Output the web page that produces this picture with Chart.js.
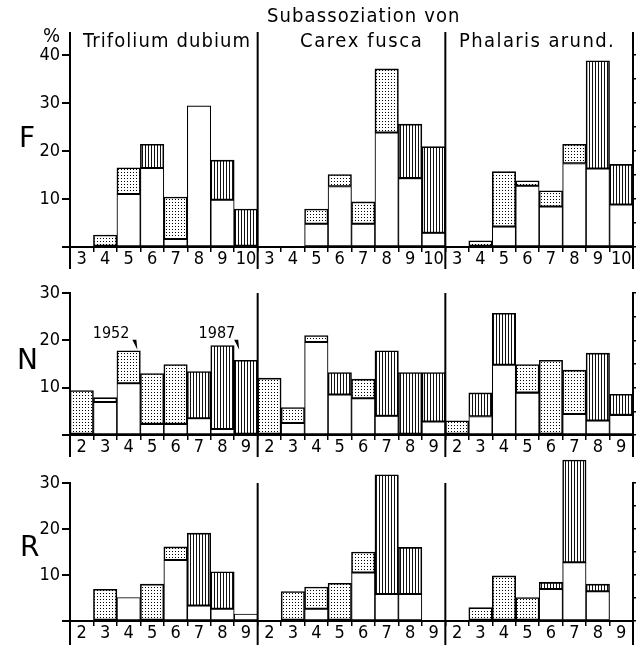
<!DOCTYPE html>
<html>
<head>
<meta charset="utf-8">
<script src="https://cdn.jsdelivr.net/npm/chart.js@4.4.0/dist/chart.umd.min.js"></script>
<style>
    html, body { margin: 0; padding: 0; background: #fff; }
    #wrap {
        position: relative; width: 636px; height: 648px; overflow: hidden;
        font-family: 'DejaVu Sans Condensed', 'DejaVu Sans', sans-serif; color: #000;
    }
    canvas { position: absolute; left: 0; }
    .txt { position: absolute; white-space: nowrap; line-height: 1; }
    .head { font-size: 20px; letter-spacing: 1.1px; }
    .row { font-size: 28px; font-family: 'DejaVu Sans', sans-serif; }
</style>
</head>
<body>
<div id="wrap">
    <canvas id="chartF" width="636" height="272" style="top:0px"></canvas>
    <canvas id="chartN" width="636" height="192" style="top:268px"></canvas>
    <canvas id="chartR" width="636" height="203" style="top:445px"></canvas>

    <div class="txt head" style="left:267px; top:5px;">Subassoziation von</div>
    <div class="txt head" style="left:83px; top:30px;">Trifolium dubium</div>
    <div class="txt head" style="left:300px; top:30px; letter-spacing:1.6px;">Carex fusca</div>
    <div class="txt head" style="left:459px; top:30px; letter-spacing:1.4px;">Phalaris arund.</div>
    <div class="txt" style="left:43px; top:25px; font-size:20px;">%</div>
    <div class="txt row" style="left:19px; top:124px;">F</div>
    <div class="txt row" style="left:17px; top:346px;">N</div>
    <div class="txt row" style="left:20px; top:533px;">R</div>
</div>

<script>
// ================================================================
// DATA  (per panel: share of releves in %, 1952 vs 1987)
// ================================================================

const panelNames = ['Trifolium dubium', 'Carex fusca', 'Phalaris arund.'];

// F = Feuchtezahl, N = Stickstoffzahl, R = Reaktionszahl
const fCategories = ['3', '4', '5', '6', '7', '8', '9', '10'];
const nCategories = ['2', '3', '4', '5', '6', '7', '8', '9'];
const rCategories = ['2', '3', '4', '5', '6', '7', '8', '9'];

const fTrifolium1952 = [0, 2.5, 16.5, 16.4, 10.4, 29.4, 9.8, 0];
const fTrifolium1987 = [0, 0, 11.0, 21.4, 1.6, 29.4, 18.1, 7.9];
const fCarex1952     = [0, 0, 7.9, 15.1, 9.4, 37.1, 14.3, 2.9];
const fCarex1987     = [0, 0, 4.8, 12.6, 4.8, 23.8, 25.6, 20.9];
const fPhalaris1952  = [0, 1.3, 15.7, 13.8, 11.7, 21.4, 16.3, 8.8];
const fPhalaris1987  = [0, 0, 4.2, 12.7, 8.4, 17.4, 38.8, 17.2];

const nTrifolium1952 = [9.4, 7.9, 17.8, 13.0, 14.9, 3.5, 1.2, 0];
const nTrifolium1987 = [0, 6.9, 10.9, 2.3, 2.3, 13.4, 18.9, 15.8];
const nCarex1952     = [12.0, 5.8, 21.0, 8.5, 11.8, 4.0, 0, 2.8];
const nCarex1987     = [0, 2.5, 19.6, 13.2, 7.7, 17.8, 13.2, 13.2];
const nPhalaris1952  = [3.0, 3.9, 14.8, 14.9, 15.8, 13.7, 3.0, 4.2];
const nPhalaris1987  = [0, 8.9, 25.7, 8.9, 0, 4.4, 17.3, 8.6];

const rTrifolium1952 = [0, 6.9, 5.1, 8.0, 16.1, 3.3, 2.6, 1.5];
const rTrifolium1987 = [0, 0, 5.1, 0, 13.2, 19.1, 10.7, 1.5];
const rCarex1952     = [0, 6.4, 7.4, 8.2, 15.0, 5.8, 5.8, 0];
const rCarex1987     = [0, 0, 2.6, 0, 10.5, 31.8, 16.0, 0];
const rPhalaris1952  = [0, 2.9, 9.8, 5.1, 6.9, 12.7, 6.4, 0];
const rPhalaris1987  = [0, 0, 0, 0, 8.4, 35.0, 8.0, 0];

const FONT = "'DejaVu Sans Condensed', 'DejaVu Sans', sans-serif";

// ================================================================
// FILL PATTERNS
// ================================================================

// dotted = decrease (1952 higher), vertical hatch = increase (1987 higher)
function makeDots() {
    const c = document.createElement('canvas');
    c.width = 3; c.height = 3;
    const g = c.getContext('2d');
    g.fillStyle = '#fff';
    g.fillRect(0, 0, 3, 3);
    g.fillStyle = '#000';
    g.fillRect(1, 1, 1, 1);
    return g.createPattern(c, 'repeat');
}

function makeHatch() {
    const c = document.createElement('canvas');
    c.width = 3; c.height = 3;
    const g = c.getContext('2d');
    g.fillStyle = '#fff';
    g.fillRect(0, 0, 3, 3);
    g.fillStyle = '#111';
    g.fillRect(1, 0, 1, 3);
    return g.createPattern(c, 'repeat');
}

const DOTS = makeDots();
const HATCH = makeHatch();

// ================================================================
// HELPERS
// ================================================================

function buildRow(cats, pairs) {
    const labels = [], base = [], diff = [], fills = [];
    pairs.forEach(([old, recent]) => {
        cats.forEach((c, i) => {
            const lo = Math.min(old[i], recent[i]);
            const hi = Math.max(old[i], recent[i]);
            labels.push(c);
            base.push([0, lo]);
            diff.push([lo, hi]);
            fills.push(old[i] >= recent[i] ? DOTS : HATCH);
        });
    });
    return { labels, base, diff, fills };
}

// thick panel separators, running above and below the plot area
const panelLines = {
    id: 'panelLines',
    afterDraw(chart, args, opts) {
        const { ctx, chartArea, scales: { x } } = chart;
        const n = x.getLabels().length;
        const w = x.getPixelForValue(1) - x.getPixelForValue(0);
        const top = opts.top != null ? opts.top : chartArea.top;
        ctx.save();
        ctx.strokeStyle = '#000';
        ctx.lineWidth = 2;
        for (let k = 0; k <= n; k += 8) {
            const px = k < n ? x.getPixelForValue(k) - w / 2 : x.getPixelForValue(n - 1) + w / 2;
            ctx.beginPath();
            ctx.moveTo(px, top);
            ctx.lineTo(px, chartArea.bottom + opts.below);
            ctx.stroke();
        }
        ctx.restore();
    }
};

// "1952" / "1987" pointers in the first N panel
const yearNotes = {
    id: 'yearNotes',
    afterDraw(chart) {
        const { ctx, scales: { x, y } } = chart;
        const w = x.getPixelForValue(1) - x.getPixelForValue(0);
        const tipY = y.getPixelForValue(18);
        const notes = [
            { text: '1952', px: x.getPixelForValue(2) + w / 2 - 4, gap: 7 },
            { text: '1987', px: x.getPixelForValue(6) + w / 2 + 4, gap: 3 }
        ];
        ctx.save();
        ctx.fillStyle = '#000';
        ctx.font = "16px " + FONT;
        ctx.textAlign = 'right';
        ctx.textBaseline = 'alphabetic';
        notes.forEach(n => {
            ctx.fillText(n.text, n.px - n.gap, tipY - 12);
            ctx.beginPath();
            ctx.moveTo(n.px - 4, tipY - 10);
            ctx.lineTo(n.px, tipY - 10);
            ctx.lineTo(n.px + 1, tipY);
            ctx.closePath();
            ctx.fill();
        });
        ctx.restore();
    }
};

function makeChart(id, row, opt) {
    const ctx = document.getElementById(id).getContext('2d');
    const plugins = [panelLines];
    if (opt.notes) plugins.push(yearNotes);

    return new Chart(ctx, {
        type: 'bar',
        data: {
            labels: row.labels,
            datasets: [
                {
                    label: 'difference',
                    data: row.diff,
                    backgroundColor: row.fills,
                    borderColor: '#000',
                    borderWidth: 1.6,
                    borderSkipped: false,
                    barPercentage: 1,
                    categoryPercentage: 1,
                    grouped: false,
                    clip: false
                },
                {
                    label: 'common part',
                    data: row.base,
                    backgroundColor: '#fff',
                    borderColor: '#000',
                    borderWidth: 1.1,
                    borderSkipped: false,
                    barPercentage: 1,
                    categoryPercentage: 1,
                    grouped: false,
                    clip: false
                }
            ]
        },
        options: {
            responsive: false,
            animation: false,
            events: [],
            layout: { padding: { top: opt.padTop, left: 0, right: 0, bottom: 0 } },
            plugins: {
                legend: { display: false },
                tooltip: { enabled: false },
                panelLines: { top: opt.lineTop, below: opt.below }
            },
            scales: {
                x: {
                    type: 'category',
                    offset: true,
                    grid: {
                        offset: true,
                        drawOnChartArea: false,
                        tickLength: 5,
                        color: '#000',
                        lineWidth: 1.5
                    },
                    border: { color: '#000', width: 2 },
                    ticks: {
                        autoSkip: false,
                        maxRotation: 0,
                        padding: -3,
                        color: '#000',
                        font: { family: FONT, size: 18 }
                    },
                    afterFit: a => { a.height = opt.axisH; }
                },
                y: {
                    min: 0,
                    max: opt.max,
                    position: 'left',
                    grid: {
                        drawOnChartArea: false,
                        tickLength: 8,
                        color: '#000',
                        lineWidth: 2
                    },
                    border: { color: '#000', width: 2 },
                    ticks: {
                        stepSize: 5,
                        padding: 2,
                        color: '#000',
                        font: { family: FONT, size: 18 },
                        callback: v => (v > 0 && v % 10 === 0 ? v : '')
                    },
                    afterFit: a => { a.width = 70; }
                },
                y2: {
                    min: 0,
                    max: opt.max,
                    position: 'right',
                    grid: {
                        drawOnChartArea: false,
                        tickLength: 6,
                        color: '#000',
                        lineWidth: 1.5
                    },
                    border: { color: '#000', width: 2 },
                    ticks: { stepSize: 5, display: false },
                    afterFit: a => { a.width = 3; }
                }
            }
        },
        plugins: plugins
    });
}

// ================================================================
// BUILD
// ================================================================

const rowF = buildRow(fCategories, [
    [fTrifolium1952, fTrifolium1987],
    [fCarex1952, fCarex1987],
    [fPhalaris1952, fPhalaris1987]
]);
const rowN = buildRow(nCategories, [
    [nTrifolium1952, nTrifolium1987],
    [nCarex1952, nCarex1987],
    [nPhalaris1952, nPhalaris1987]
]);
const rowR = buildRow(rCategories, [
    [rTrifolium1952, rTrifolium1987],
    [rCarex1952, rCarex1987],
    [rPhalaris1952, rPhalaris1987]
]);

makeChart('chartF', rowF, { max: 40, padTop: 55, axisH: 25, lineTop: 32, below: 22 });
makeChart('chartN', rowN, { max: 30, padTop: 25, axisH: 25, lineTop: null, below: 22, notes: true });
makeChart('chartR', rowR, { max: 30, padTop: 38, axisH: 27, lineTop: null, below: 24 });
</script>
</body>
</html>
